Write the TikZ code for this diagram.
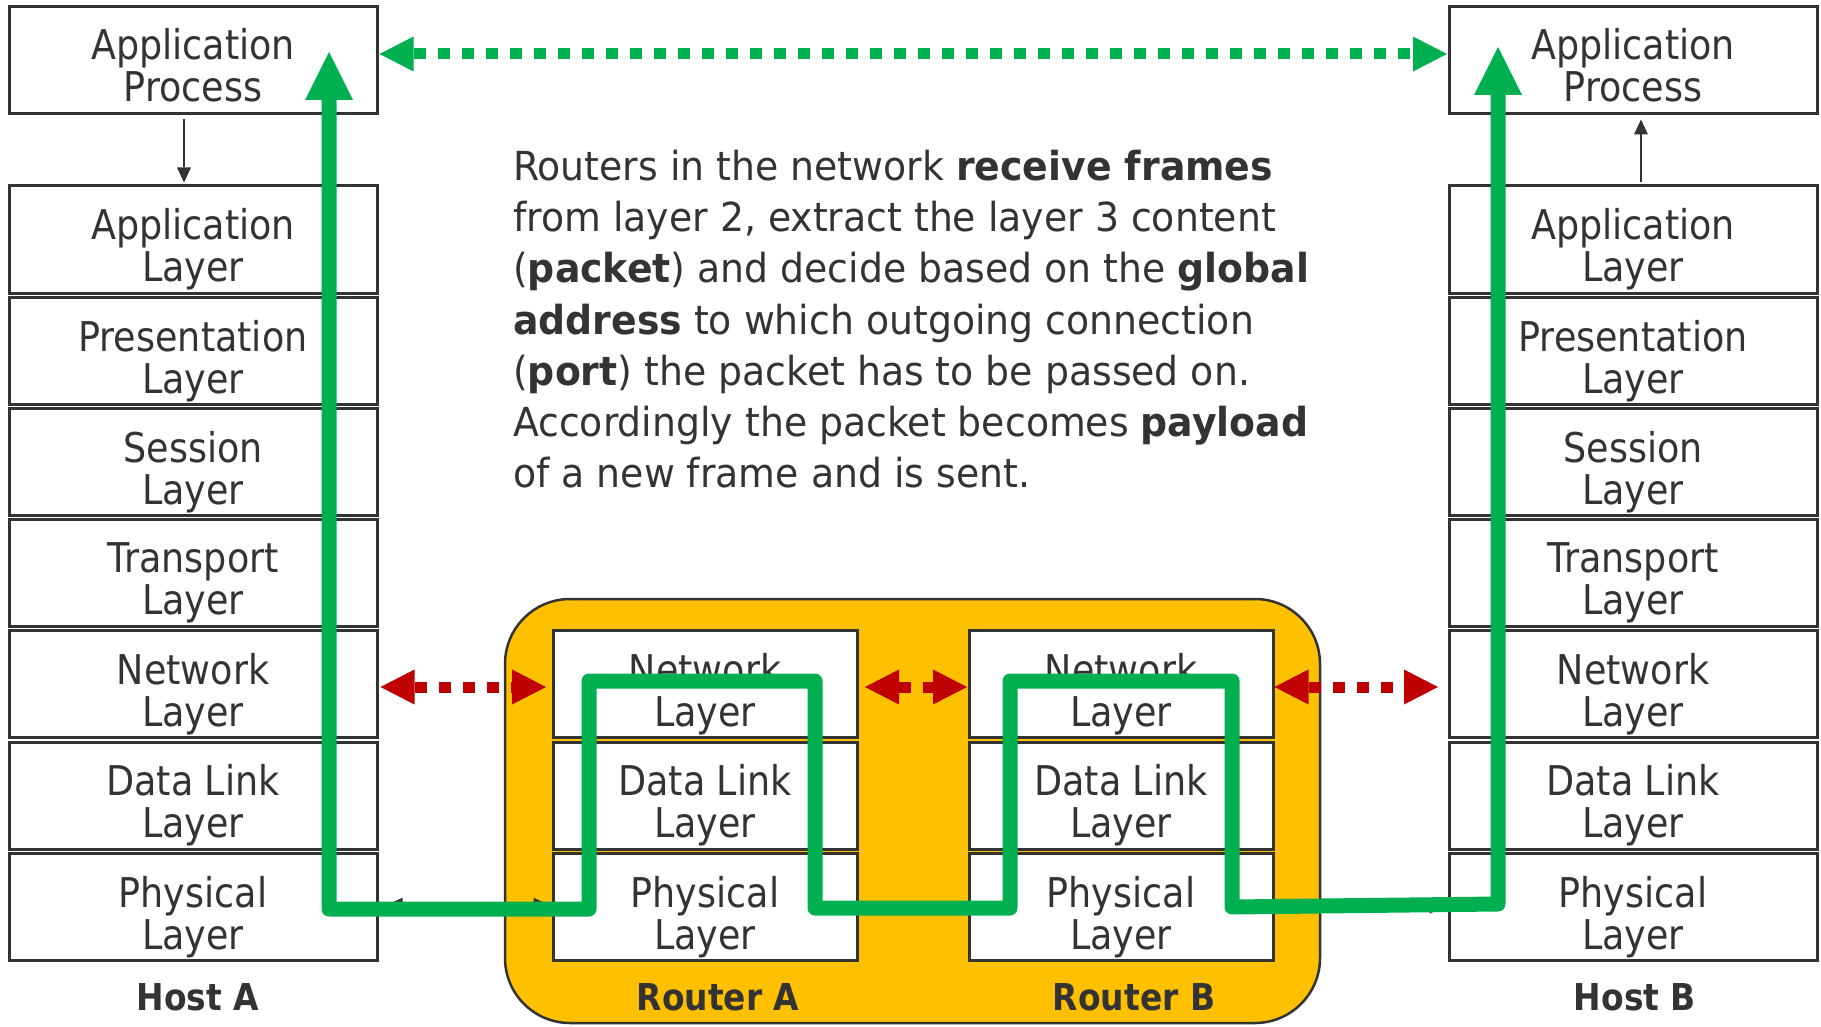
\documentclass[tikz,border=0pt]{standalone}
\usepackage{fontspec}
\usetikzlibrary{arrows.meta}
\newfontfamily\lblfont{DejaVu Sans}[FakeStretch=0.89]
\newfontfamily\txtfont{DejaVu Sans}[FakeStretch=0.945]
\definecolor{ink}{HTML}{333333}
\definecolor{rtyellow}{HTML}{FFC000}
\definecolor{flowgreen}{HTML}{00B050}
\definecolor{peerred}{HTML}{C00000}
% box node plus its (slightly lowered) text node
\newcommand{\stackbox}[6]{%
  \node[#1] (#2) at (#3,#4) {};
  \node[lbltext] (#2t) at ([yshift=#5]#2.center) {#6};}
\begin{document}
\begin{tikzpicture}[x=1pt,y=-1pt,
  layerbox/.style={draw=ink, line width=3pt, fill=white, minimum width=368pt, minimum height=107pt, inner sep=0pt},
  routerbox/.style={layerbox, minimum width=304pt},
  lbltext/.style={inner sep=0pt, align=center, text=ink, font=\lblfont\fontsize{41}{42}\selectfont},
  hostlabel/.style={text=ink, inner sep=0pt, font=\lblfont\bfseries\fontsize{37}{40}\selectfont},
  routerarea/.style={draw=ink, line width=2.5pt, fill=rtyellow, rounded corners=65pt,
    minimum width=815pt, minimum height=424pt, inner sep=0pt},
  thinarrow/.style={draw=ink, line width=2.5pt, -{Triangle[length=15pt,width=14pt,line width=0pt]}},
  thinboth/.style={draw=ink, line width=2.5pt, {Triangle[length=15pt,width=14pt,line width=0pt]}-{Triangle[length=15pt,width=14pt,line width=0pt]}},
  peerarrow/.style={line width=11pt, dash pattern=on 12pt off 12pt,
    {Triangle[length=34pt,width=35pt,line width=0pt]}-{Triangle[length=34pt,width=35pt,line width=0pt]}},
  flow/.style={draw=flowgreen, line width=15pt, line join=round,
    {Triangle[length=48pt,width=48pt,line width=0pt]}-{Triangle[length=48pt,width=48pt,line width=0pt]}}
]
\useasboundingbox (0,0) rectangle (1821,1027);

% router area
\node[routerarea] (routers) at (912.5,811) {};

% Host A
\stackbox{layerbox}{hAap}{193}{60.5}{-5pt}{Application\\Process}
\stackbox{layerbox}{hAal}{193}{239.5}{-10pt}{Application\\Layer}
\stackbox{layerbox}{hApr}{193}{350.7}{-10pt}{Presentation\\Layer}
\stackbox{layerbox}{hAse}{193}{461.9}{-10pt}{Session\\Layer}
\stackbox{layerbox}{hAtr}{193}{573.1}{-10pt}{Transport\\Layer}
\stackbox{layerbox}{hAnet}{193}{684.3}{-10pt}{Network\\Layer}
\stackbox{layerbox}{hAdl}{193}{795.5}{-10pt}{Data Link\\Layer}
\stackbox{layerbox}{hAphy}{193}{906.7}{-10pt}{Physical\\Layer}
\node[hostlabel] (hAlbl) at (198,997) {Host A};

% Host B
\stackbox{layerbox}{hBap}{1633}{60.5}{-5pt}{Application\\Process}
\stackbox{layerbox}{hBal}{1633}{239.5}{-10pt}{Application\\Layer}
\stackbox{layerbox}{hBpr}{1633}{350.7}{-10pt}{Presentation\\Layer}
\stackbox{layerbox}{hBse}{1633}{461.9}{-10pt}{Session\\Layer}
\stackbox{layerbox}{hBtr}{1633}{573.1}{-10pt}{Transport\\Layer}
\stackbox{layerbox}{hBnet}{1633}{684.3}{-10pt}{Network\\Layer}
\stackbox{layerbox}{hBdl}{1633}{795.5}{-10pt}{Data Link\\Layer}
\stackbox{layerbox}{hBphy}{1633}{906.7}{-10pt}{Physical\\Layer}
\node[hostlabel] (hBlbl) at (1635,997) {Host B};

% Router A
\stackbox{routerbox}{rAnet}{705}{684.3}{-10pt}{Network\\Layer}
\stackbox{routerbox}{rAdl}{705}{795.5}{-10pt}{Data Link\\Layer}
\stackbox{routerbox}{rAphy}{705}{906.7}{-10pt}{Physical\\Layer}
\node[hostlabel] (rAlbl) at (718,997) {Router A};

% Router B
\stackbox{routerbox}{rBnet}{1121}{684.3}{-10pt}{Network\\Layer}
\stackbox{routerbox}{rBdl}{1121}{795.5}{-10pt}{Data Link\\Layer}
\stackbox{routerbox}{rBphy}{1121}{906.7}{-10pt}{Physical\\Layer}
\node[hostlabel] (rBlbl) at (1134,997) {Router B};

% description
\node[anchor=north west, inner sep=0pt, align=left, text=ink,
  font=\txtfont\fontsize{40}{51.2}\selectfont] (desc) at (513,150)
  {Routers in the network \textbf{receive frames}\\
   from layer 2, extract the layer 3 content\\
   (\textbf{packet}) and decide based on the \textbf{global}\\
   \textbf{address} to which outgoing connection\\
   (\textbf{port}) the packet has to be passed on.\\
   Accordingly the packet becomes \textbf{payload}\\
   of a new frame and is sent.};

% thin arrows
\draw[thinarrow] ([xshift=-9pt,yshift=-4pt]hAap.south) -- ([xshift=-9pt,yshift=2pt]hAal.north);
\draw[thinarrow] ([xshift=8pt,yshift=2pt]hBal.north) -- ([xshift=8pt,yshift=-4pt]hBap.south);
\draw[thinboth] ([xshift=9pt,yshift=2pt]hAphy.east) -- ([xshift=-3pt,yshift=2pt]rAphy.west);
\draw[thinboth] ([xshift=9pt,yshift=0pt]rBphy.east) -- ([xshift=-3pt,yshift=0pt]hBphy.west);

% peer arrows
\draw[peerarrow, draw=flowgreen] ([xshift=1pt,yshift=6.5pt]hAap.east) -- ([xshift=-0.5pt,yshift=6.5pt]hBap.west);
\draw[peerarrow, draw=peerred] ([xshift=2pt,yshift=-2.7pt]hAnet.east) -- ([xshift=-5.5pt,yshift=-2.7pt]rAnet.west);
\draw[peerarrow, draw=peerred] ([xshift=6.5pt,yshift=-2.7pt]rAnet.east) -- ([xshift=-0.5pt,yshift=-2.7pt]rBnet.west);
\draw[peerarrow, draw=peerred] ([xshift=0pt,yshift=-2.7pt]rBnet.east) -- ([xshift=-9.5pt,yshift=-2.7pt]hBnet.west);

% data flow path
\coordinate (gstart) at (329,52);
\coordinate (gend) at (1498,47);
\draw[flow] (gstart) -- (329,909) -- (589,909) -- (589,681) -- (815,681) -- (815,908)
  -- (1010,908) -- (1010,681) -- (1232,681) -- (1232,907) -- (1498,904) -- (gend);
\end{tikzpicture}
\end{document}
